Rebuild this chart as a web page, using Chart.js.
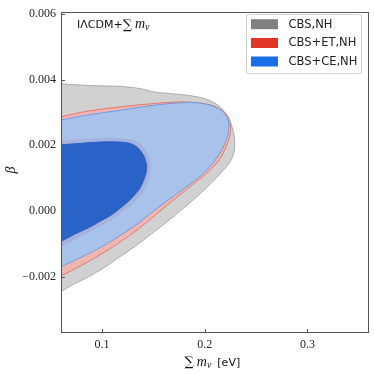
<!DOCTYPE html>
<html>
<head>
    <title>IΛCDM + sum m_nu contours</title>
    <script src="https://cdn.jsdelivr.net/npm/chart.js"></script>
    <style>
        body { margin: 0; background: #fff; }
    </style>
</head>
<body>
<canvas id="contourChart" width="374" height="374"></canvas>

<script>
// axis ticks
const xTicks = [0.1, 0.2, 0.3];
const xTickLabels = ['0.1', '0.2', '0.3'];
const yTicks = [-0.002, 0.000, 0.002, 0.004, 0.006];
const yTickLabels = ['\u22120.002', '0.000', '0.002', '0.004', '0.006'];

// legend
const legendLabels = ['CBS,NH', 'CBS+ET,NH', 'CBS+CE,NH'];
const legendColors = ['#808080', '#e2352a', '#1a6fe8'];

// CBS,NH 2 sigma contour (top edge then bottom edge)
const grayX = [0.05, 0.0604, 0.0863, 0.1188, 0.1383, 0.1512, 0.1675, 0.1837, 0.2000, 0.2129, 0.2226, 0.2275, 0.2291, 0.2285, 0.2243, 0.2162, 0.2064, 0.1902, 0.1675, 0.1512, 0.1350, 0.1188, 0.1026, 0.0863, 0.0701, 0.0604, 0.05];
const grayY = [0.00388, 0.00387, 0.00382, 0.00379, 0.00372, 0.00362, 0.00357, 0.00352, 0.00342, 0.00322, 0.00287, 0.00247, 0.00217, 0.00178, 0.00148, 0.00118, 0.00085, 0.00038, -0.00022, -0.00062, -0.00101, -0.00136, -0.00171, -0.00201, -0.00226, -0.00245, -0.00268];

// CBS+ET,NH 2 sigma
const redX = [0.05, 0.0604, 0.0863, 0.1188, 0.1512, 0.1772, 0.1934, 0.2064, 0.2162, 0.2226, 0.2252, 0.2243, 0.2211, 0.2145, 0.2031, 0.1882, 0.1675, 0.1512, 0.1350, 0.1188, 0.1026, 0.0863, 0.0701, 0.0604, 0.05];
const redY = [0.00283, 0.002875, 0.003042, 0.003174, 0.003273, 0.003323, 0.003293, 0.003222, 0.003072, 0.002875, 0.002576, 0.002276, 0.001977, 0.001576, 0.001179, 0.000805, 0.000281, -0.000138, -0.000556, -0.000915, -0.001244, -0.001544, -0.001813, -0.001962, -0.00212];

// CBS+CE,NH 2 sigma
const blueX = [0.05, 0.0604, 0.0863, 0.1188, 0.1512, 0.1772, 0.1934, 0.2097, 0.2194, 0.2233, 0.2226, 0.2177, 0.2097, 0.2000, 0.1853, 0.1642, 0.1512, 0.1350, 0.1188, 0.1026, 0.0863, 0.0701, 0.0604, 0.05];
const blueY = [0.00273, 0.002773, 0.002923, 0.003072, 0.003222, 0.003293, 0.003293, 0.003174, 0.002973, 0.002674, 0.002324, 0.001926, 0.001529, 0.001179, 0.000805, 0.000332, 0.000027, -0.000377, -0.000721, -0.001035, -0.001304, -0.001544, -0.001693, -0.00184];

// 1 sigma of CBS / CBS+ET (the faint ring round the dark blue)
const ringX = [0.05, 0.0604, 0.0863, 0.1026, 0.1188, 0.1298, 0.1386, 0.1444, 0.1469, 0.1464, 0.1439, 0.1400, 0.1337, 0.1279, 0.1201, 0.1103, 0.0977, 0.0863, 0.0733, 0.0604, 0.05];
const ringY = [0.00209, 0.002127, 0.002181, 0.002211, 0.002202, 0.002151, 0.001986, 0.001717, 0.001388, 0.001149, 0.000879, 0.000595, 0.000356, 0.000176, -0.000003, -0.000227, -0.000452, -0.000646, -0.000856, -0.001065, -0.00120];

// CBS+CE,NH 1 sigma
const innerX = [0.05, 0.0604, 0.0863, 0.1026, 0.1188, 0.1285, 0.1357, 0.1410, 0.1434, 0.1430, 0.1405, 0.1366, 0.1308, 0.1252, 0.1188, 0.1091, 0.0977, 0.0863, 0.0733, 0.0604, 0.05];
const innerY = [0.00199, 0.002016, 0.002076, 0.002106, 0.002097, 0.002046, 0.001897, 0.001657, 0.001388, 0.001179, 0.000939, 0.000679, 0.000461, 0.000281, 0.000117, -0.000117, -0.000317, -0.000518, -0.000706, -0.000915, -0.00105];

function pts(xs, ys) {
    return xs.map((x, i) => ({ x: x, y: ys[i] }));
}

function contour(label, xs, ys, fillColor, lineColor, order) {
    return {
        label: label,
        data: pts(xs, ys),
        showLine: true,
        fill: 'shape',
        backgroundColor: fillColor,
        borderColor: lineColor,
        borderWidth: 1,
        pointRadius: 0,
        tension: 0.3,
        clip: 0,
        order: order
    };
}

// draw a row of text pieces with different fonts
function drawRuns(ctx, x, y, runs) {
    runs.forEach(r => {
        ctx.font = r.font;
        ctx.fillText(r.t, x, y + (r.dy || 0));
        x += ctx.measureText(r.t).width + (r.gap || 0);
    });
}

const extras = {
    id: 'extras',
    afterDatasetsDraw(chart) {
        const ctx = chart.ctx;
        const a = chart.chartArea;
        const xs = chart.scales.x;
        const ys = chart.scales.y;
        ctx.save();

        // frame
        ctx.strokeStyle = '#555';
        ctx.lineWidth = 1;
        const l = Math.round(a.left) + 0.5, t = Math.round(a.top) + 0.5;
        const r = Math.round(a.right) - 0.5, b = Math.round(a.bottom) - 0.5;
        ctx.strokeRect(l, t, r - l, b - t);

        // inward ticks
        ctx.beginPath();
        xTicks.forEach(v => {
            const px = Math.round(xs.getPixelForValue(v)) + 0.5;
            ctx.moveTo(px, b);
            ctx.lineTo(px, b - 3.5);
        });
        yTicks.forEach(v => {
            const py = Math.round(ys.getPixelForValue(v)) + 0.5;
            ctx.moveTo(l, py);
            ctx.lineTo(l + 3.5, py);
        });
        ctx.stroke();

        // legend
        ctx.fillStyle = 'rgba(255,255,255,0.85)';
        ctx.strokeStyle = '#d0d0d0';
        ctx.beginPath();
        ctx.roundRect(246.5, 14.5, 115, 59, 2);
        ctx.fill();
        ctx.stroke();
        const rows = [24.2, 43, 61.5];
        legendLabels.forEach((lab, i) => {
            ctx.fillStyle = legendColors[i];
            ctx.fillRect(251, rows[i] - 5, 27, 10);
            ctx.fillStyle = '#222';
            ctx.font = '11.5px "DejaVu Sans"';
            ctx.textBaseline = 'middle';
            ctx.fillText(lab, 288.5, rows[i] + 0.5);
        });

        // model label
        ctx.textBaseline = 'alphabetic';
        ctx.fillStyle = '#111';
        drawRuns(ctx, 77, 28, [
            { t: 'I\u039BCDM+', font: '11px "DejaVu Sans"' },
            { t: '\u2211', font: '13px "DejaVu Serif"', dy: 1, gap: 3 },
            { t: 'm', font: 'italic 14px "Liberation Serif"' },
            { t: '\u03BD', font: 'italic 10px "Liberation Serif"', dy: 2 }
        ]);

        // x axis title
        drawRuns(ctx, 184.5, 366, [
            { t: '\u2211', font: '13px "DejaVu Serif"', dy: 0, gap: 3 },
            { t: 'm', font: 'italic 14px "Liberation Serif"' },
            { t: '\u03BD', font: 'italic 10px "Liberation Serif"', dy: 2, gap: 6 },
            { t: '[eV]', font: '11px "DejaVu Sans"' }
        ]);

        // y axis title
        ctx.translate(15, 170);
        ctx.rotate(-Math.PI / 2);
        ctx.textAlign = 'center';
        ctx.font = 'italic 14px "Liberation Serif"';
        ctx.fillText('\u03B2', 0, 0);

        ctx.restore();
    }
};

const tickFont = { family: 'Liberation Serif', size: 12 };

new Chart(document.getElementById('contourChart'), {
    type: 'scatter',
    data: {
        datasets: [
            contour('CBS,NH', grayX, grayY, '#d1d1d1', '#ababab', 5),
            contour('CBS+ET,NH', redX, redY, '#efb6b1', '#e8766c', 4),
            contour('CBS+CE,NH', blueX, blueY, '#a9c2ea', '#6d9be6', 3),
            contour('1 sigma others', ringX, ringY, '#a7b1dd', '#a7b1dd', 2),
            contour('CBS+CE,NH 1 sigma', innerX, innerY, '#2a63c7', '#2a63c7', 1)
        ]
    },
    options: {
        responsive: false,
        animation: false,
        devicePixelRatio: 1,
        layout: { padding: { top: 7, right: 5, left: 0, bottom: 0 } },
        plugins: {
            legend: { display: false },
            tooltip: { enabled: false }
        },
        scales: {
            x: {
                type: 'linear',
                min: 0.06,
                max: 0.36,
                grid: { display: false, drawTicks: false },
                border: { display: false },
                afterBuildTicks: s => { s.ticks = xTicks.map(v => ({ value: v })); },
                afterFit: s => { s.height = 41; },
                ticks: {
                    callback: (v, i) => xTickLabels[i],
                    font: tickFont,
                    color: '#262626',
                    padding: 5,
                    maxRotation: 0,
                    autoSkip: false
                }
            },
            y: {
                type: 'linear',
                min: -0.00371,
                max: 0.00605,
                grid: { display: false, drawTicks: false },
                border: { display: false },
                afterBuildTicks: s => { s.ticks = yTicks.map(v => ({ value: v })); },
                afterFit: s => { s.width = 61; },
                ticks: {
                    callback: (v, i) => yTickLabels[i],
                    font: tickFont,
                    color: '#262626',
                    padding: 5,
                    autoSkip: false
                }
            }
        }
    },
    plugins: [extras]
});
</script>
</body>
</html>
